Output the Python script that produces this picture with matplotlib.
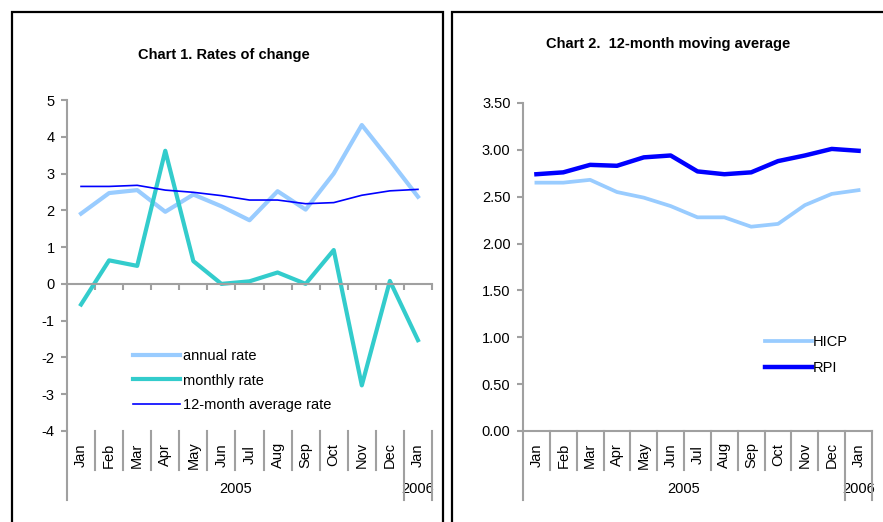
import matplotlib
matplotlib.use("Agg")
import matplotlib.pyplot as plt
from matplotlib.lines import Line2D

plt.rcParams['font.family'] = ['Liberation Sans', 'DejaVu Sans']
plt.rcParams['axes.unicode_minus'] = False

# data (Jan 2005 .. Jan 2006)
months = ["Jan", "Feb", "Mar", "Apr", "May", "Jun", "Jul", "Aug", "Sep", "Oct", "Nov", "Dec", "Jan"]
years = ["2005", "2006"]
annual_rate = [1.91, 2.47, 2.55, 1.96, 2.43, 2.11, 1.73, 2.52, 2.02, 3.0, 4.32, 3.36, 2.37]
monthly_rate = [-0.56, 0.64, 0.49, 3.62, 0.62, 0.0, 0.07, 0.31, 0.0, 0.92, -2.76, 0.08, -1.53]
avg_rate = [2.65, 2.65, 2.68, 2.55, 2.49, 2.40, 2.28, 2.28, 2.18, 2.21, 2.41, 2.53, 2.57]
hicp = [2.65, 2.65, 2.68, 2.55, 2.49, 2.40, 2.28, 2.28, 2.18, 2.21, 2.41, 2.53, 2.57]
rpi = [2.74, 2.76, 2.84, 2.83, 2.92, 2.94, 2.77, 2.74, 2.76, 2.88, 2.94, 3.01, 2.99]

W, H = 883, 522
GRAY = "#a0a0a0"
FS = 10.5

fig = plt.figure(figsize=(W / 100, H / 100), dpi=100)


def px_box(l, t, r, b):
    return [l / W, 1 - b / H, (r - l) / W, (b - t) / H]


def fig_line(xs, ys, lw):
    fig.add_artist(Line2D([x / W for x in xs], [1 - y / H for y in ys],
                          transform=fig.transFigure, color="black", lw=lw,
                          solid_joinstyle="miter"))


# panel frames
fig_line([11.5, 11.5, 443, 443], [600, 12, 12, 600], 1.6)
fig_line([452, 452, 900], [600, 12, 12], 1.6)


def category_axis(ax, height_px, zero_line):
    n = len(months)
    ax.set_xlim(-0.5, n - 0.5)
    for s in ["top", "right"]:
        ax.spines[s].set_visible(False)
    ax.spines["left"].set_color(GRAY)
    ax.spines["left"].set_linewidth(1.5)
    ax.spines["bottom"].set_color(GRAY)
    ax.spines["bottom"].set_linewidth(1.5)
    ax.tick_params(axis="y", direction="out", length=4, width=1.5, color=GRAY,
                   labelsize=FS, pad=5)
    bounds = [i - 0.5 for i in range(n + 1)]
    ax.set_xticks(bounds)
    ax.tick_params(axis="x", labelbottom=False, direction="out", width=1.5,
                   color=GRAY, length=4 if zero_line else 0)
    if zero_line:
        ax.spines["bottom"].set_position(("data", 0))
    tr = ax.get_xaxis_transform()
    short = -39 / height_px
    long = -69 / height_px
    for b in bounds:
        low = long if b in (-0.5, n - 1.5, n - 0.5) else short
        ax.plot([b, b], [0, low], transform=tr, color=GRAY, lw=1.5,
                clip_on=False, zorder=3)
    for i, m in enumerate(months):
        ax.text(i, -24 / height_px, m, transform=tr, rotation=90,
                ha="center", va="center", fontsize=FS)
    ax.text((n - 2) / 2, -58 / height_px, years[0], transform=tr,
            ha="center", va="center", fontsize=FS, zorder=1)
    ax.text(n - 1, -58 / height_px, years[1], transform=tr,
            ha="center", va="center", fontsize=FS, zorder=1)


# Chart 1
ax1 = fig.add_axes(px_box(67, 100, 432, 431))
x = range(len(months))
ax1.plot(x, annual_rate, color="#99ccff", lw=3, label="annual rate")
ax1.plot(x, monthly_rate, color="#33cccc", lw=3, label="monthly rate")
ax1.plot(x, avg_rate, color="#0000ff", lw=1.2, label="12-month average rate")
ax1.set_ylim(-4, 5)
ax1.set_yticks(range(-4, 6))
category_axis(ax1, 331, True)
ax1.legend(loc="upper left", bbox_to_anchor=(133 / W, 1 - 349 / H),
           bbox_transform=fig.transFigure, frameon=False, fontsize=FS,
           handlelength=3.2, handletextpad=0.2, borderpad=0, borderaxespad=0,
           labelspacing=0.72)
fig.text(224 / W, 1 - 55 / H, "Chart 1. Rates of change", ha="center",
         va="center", fontsize=FS, fontweight="bold")

# Chart 2
ax2 = fig.add_axes(px_box(523, 103, 872, 431))
ax2.plot(x, hicp, color="#99ccff", lw=2.7, label="HICP")
ax2.plot(x, rpi, color="#0000ff", lw=3.2, label="RPI")
ax2.set_ylim(0, 3.5)
yt = [i * 0.5 for i in range(8)]
ax2.set_yticks(yt)
ax2.set_yticklabels(["%.2f" % v for v in yt])
category_axis(ax2, 328, False)
ax2.legend(loc="upper left", bbox_to_anchor=(765 / W, 1 - 335 / H),
           bbox_transform=fig.transFigure, frameon=False, fontsize=FS,
           handlelength=3.2, handletextpad=0.1, borderpad=0, borderaxespad=0,
           labelspacing=0.8)
fig.text(668 / W, 1 - 44 / H, "Chart 2.  12-month moving average", ha="center",
         va="center", fontsize=FS, fontweight="bold")

fig.savefig("out.png", dpi=100)
